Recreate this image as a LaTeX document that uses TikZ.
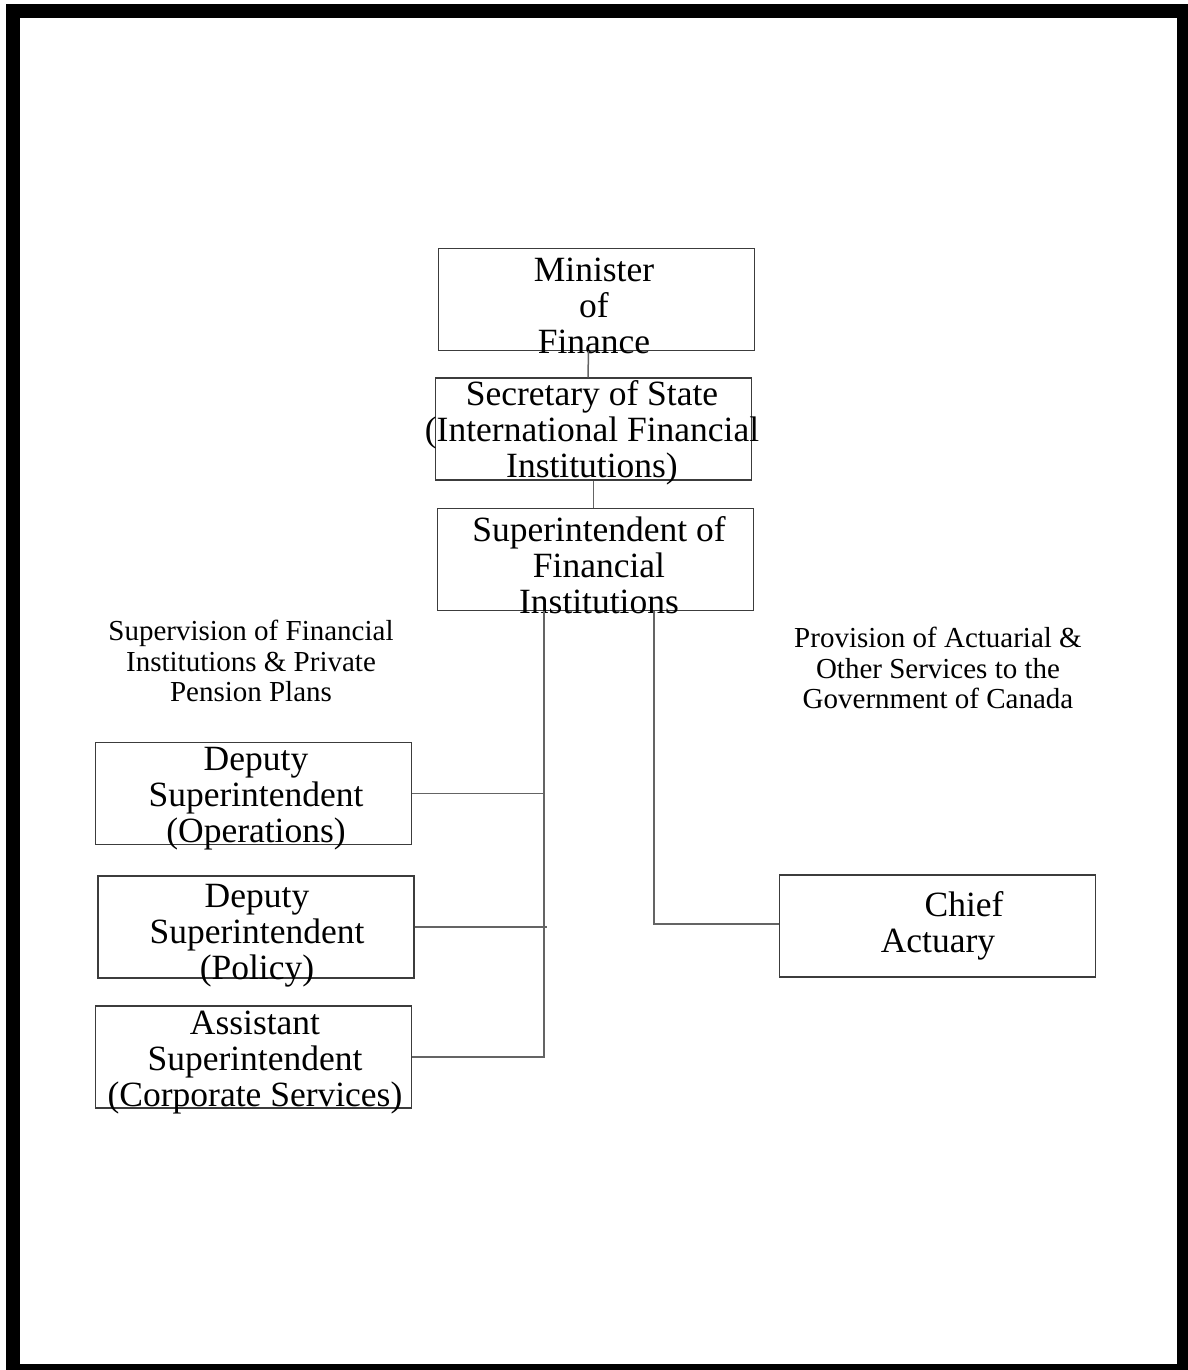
\documentclass[tikz,border=0pt]{standalone}
\usepackage{fontspec}
\setmainfont{Liberation Serif}
\usepackage{tikz}
\usetikzlibrary{calc}
\definecolor{boxline}{RGB}{60,60,60}
\definecolor{linkgray}{RGB}{100,100,100}

\begin{document}
\begin{tikzpicture}[x=1pt, y=-1pt,
    orgbox/.style={draw=boxline, line width=1.1pt, minimum width=316pt,
                   minimum height=102pt, inner sep=0pt},
    boxtext/.style={align=center, inner sep=0pt,
                    font=\fontsize{35.5}{36}\selectfont},
    note/.style={align=center, inner sep=0pt,
                 font=\fontsize{29}{30.5}\selectfont},
    link/.style={draw=linkgray, line width=1.5pt}]
  \useasboundingbox (0,0) rectangle (1188,1370);

  % Outer frame
  \draw[line width=14pt] (13,11) rectangle (1184,1371);

  % Top of the chart
  \node[orgbox] (minister) at (596.5,299.5) {};
  \node[boxtext] (ministertxt) at (594,306) {Minister\\of\\Finance};
  \node[orgbox] (secstate) at (593.5,429) {};
  \node[boxtext] (secstatetxt) at (592,433) {Secretary of State\\(International Financial\\Institutions)};
  \node[orgbox] (super) at (595.5,559.5) {};
  \node[boxtext] (supertxt) at (599,565) {Superintendent of\\Financial\\Institutions};

  % Left branch
  \node[orgbox] (depops) at (253.5,793.5) {};
  \node[boxtext] (depopstxt) at (256,799) {Deputy\\Superintendent\\(Operations)};
  \node[orgbox] (deppol) at (256,927) {};
  \node[boxtext] (deppoltxt) at (257,936) {Deputy\\Superintendent\\(Policy)};
  \node[orgbox] (asstsup) at (253.5,1057) {};
  \node[boxtext] (asstsuptxt) at (255,1063) {Assistant\\Superintendent\\(Corporate Services)};

  % Right branch
  \node[orgbox] (actuary) at (937.5,926) {};
  \node[boxtext] (actuarytxt) at (938,926) {\hspace*{52pt}Chief\\Actuary};

  % Branch notes
  \node[note] (supnote) at (251,661) {Supervision of Financial\\Institutions \& Private\\Pension Plans};
  \node[note] (actnote) at (938,668) {Provision of Actuarial \&\\Other Services to the\\Government of Canada};

  % Connectors
  \coordinate (trunk) at (544,1058);
  \coordinate (actbranch) at (654,924);
  \draw[link] ($(minister.south)+(-8,0)$) -- ($(secstate.north)+(-5.5,0)$);
  \draw[link] (secstate.south) -- (secstate.south |- super.north);
  \draw[link] (super.south -| trunk) -- (trunk);
  \draw[link] (depops.east) -- (depops.east -| trunk);
  \draw[link] (deppol.east) -- ($(deppol.east -| trunk)+(3,0)$);
  \draw[link] (asstsup.east) -- (asstsup.east -| trunk);
  \draw[link] (super.south -| actbranch) -- (actbranch) -- (actuary.west |- actbranch);
\end{tikzpicture}
\end{document}
